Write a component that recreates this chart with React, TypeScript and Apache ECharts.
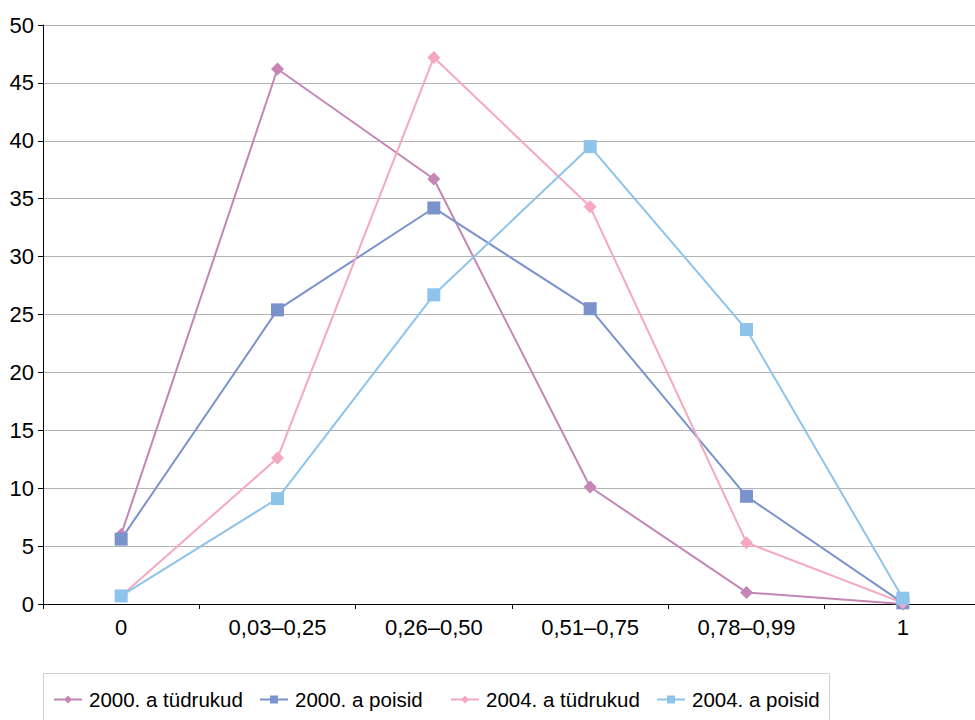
import React, { useEffect, useRef } from "react";
import * as echarts from "echarts";

const categories = ["0", "0,03–0,25", "0,26–0,50", "0,51–0,75", "0,78–0,99", "1"];
const seriesNames = ["2000. a tüdrukud", "2000. a poisid", "2004. a tüdrukud", "2004. a poisid"];
const girls2000 = [6.0, 46.2, 36.7, 10.1, 1.0, 0.0];
const boys2000 = [5.6, 25.4, 34.2, 25.5, 9.3, 0.1];
const girls2004 = [0.7, 12.6, 47.2, 34.3, 5.3, 0.1];
const boys2004 = [0.7, 9.1, 26.7, 39.5, 23.7, 0.5];
const colors = ["#c486b6", "#7a93cc", "#f5a8bf", "#8ec4ec"];
const symbols = ["diamond", "rect", "diamond", "rect"];
const legendLefts = [53, 259, 450, 656];

export default function App() {
  const ref = useRef<HTMLDivElement>(null);
  useEffect(() => {
    if (!ref.current) return;
    const chart = echarts.init(ref.current, null, { renderer: "svg" });
    const data = [girls2000, boys2000, girls2004, boys2004];
    chart.setOption({
      animation: false,
      backgroundColor: "#ffffff",
      textStyle: { fontFamily: "Liberation Sans, Arial, sans-serif" },
      grid: { left: 43, right: 1, top: 25, bottom: 123 },
      legend: seriesNames.map((n, i) => ({
        left: legendLefts[i],
        top: 689,
        padding: 0,
        itemGap: 0,
        itemWidth: 28,
        itemHeight: 10,
        textStyle: { fontSize: 20.5, color: "#000", padding: [0, 0, 0, 2] },
        data: [n],
      })),
      graphic: [
        {
          type: "rect",
          shape: { x: 43.5, y: 673.5, width: 786, height: 60 },
          style: { fill: "none", stroke: "#d0d0d0", lineWidth: 1 },
          silent: true,
        },
      ],
      xAxis: {
        type: "category",
        data: categories,
        boundaryGap: true,
        axisLine: { lineStyle: { color: "#000", width: 1 } },
        axisTick: { show: true, length: 5, lineStyle: { color: "#000" } },
        axisLabel: { fontSize: 22, color: "#000", margin: 12 },
      },
      yAxis: {
        type: "value",
        min: 0,
        max: 50,
        interval: 5,
        axisLine: { show: true, lineStyle: { color: "#000" } },
        axisTick: { show: true, length: 5, lineStyle: { color: "#000" } },
        axisLabel: { fontSize: 22, color: "#000", margin: 9 },
        splitLine: { lineStyle: { color: "#b3b3b3", width: 1 } },
      },
      series: data.map((d, i) => ({
        name: seriesNames[i],
        type: "line",
        data: d,
        symbol: symbols[i],
        symbolSize: 13,
        itemStyle: { color: colors[i] },
        lineStyle: { color: colors[i], width: 2 },
      })),
    });
    return () => chart.dispose();
  }, []);
  return (
    <div style={{ position: "absolute", left: 0, top: 0, width: 975, height: 720, overflow: "hidden", background: "#fff" }}>
      <div ref={ref} style={{ width: 982, height: 727, position: "absolute", left: 0, top: 0 }} />
    </div>
  );
}
